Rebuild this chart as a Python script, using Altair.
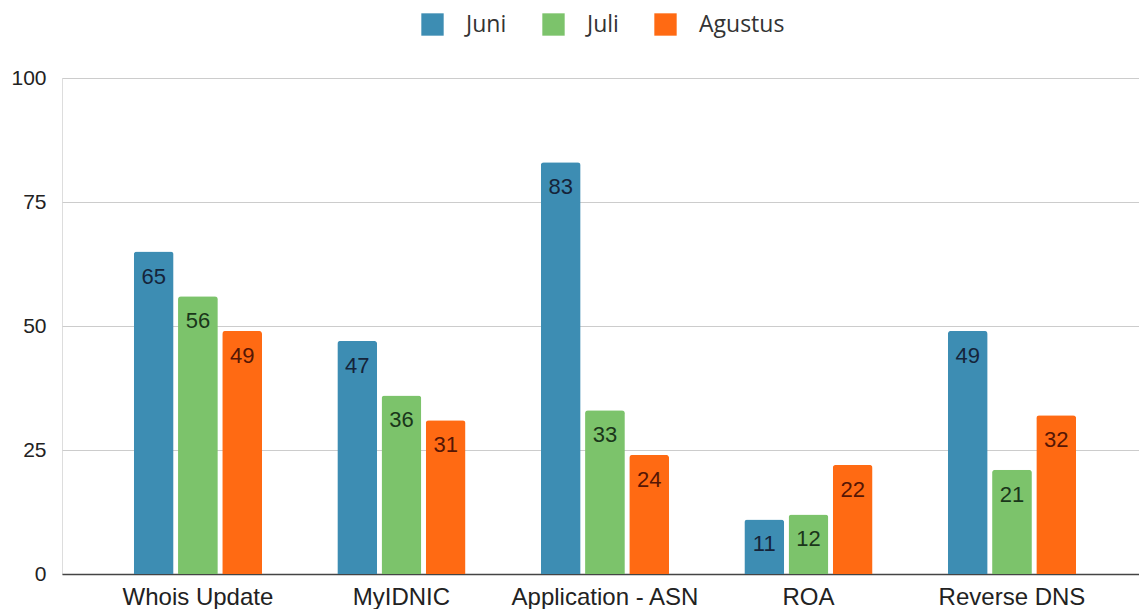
import altair as alt
import pandas as pd

categories = ["Whois Update", "MyIDNIC", "Application - ASN", "ROA", "Reverse DNS"]
series = ["Juni", "Juli", "Agustus"]
juni = [65, 47, 83, 11, 49]
juli = [56, 36, 33, 12, 21]
agustus = [49, 31, 24, 22, 32]
y_ticks = [0, 25, 50, 75, 100]

bar_colors = ["#3d8db3", "#7cc36b", "#ff6a13"]
label_colors = ["#15243a", "#1a361a", "#551605"]

rows = []
for i, c in enumerate(categories):
    for s, vals in zip(series, [juni, juli, agustus]):
        rows.append({"kategori": c, "bulan": s, "nilai": vals[i]})
df = pd.DataFrame(rows)

x = alt.X("kategori:N", sort=categories, title=None,
          scale=alt.Scale(paddingInner=0.37, paddingOuter=0.331, align=0.533),
          axis=alt.Axis(labelAngle=0, labelFont="Liberation Sans", labelFontSize=24,
                        labelColor="#222222", labelPadding=11, ticks=False, labelLimit=0,
                        domainColor="#444444", domainWidth=1.5, grid=False))
xo = alt.XOffset("bulan:N", sort=series, scale=alt.Scale(paddingInner=0.1))
y = alt.Y("nilai:Q", title=None,
          scale=alt.Scale(domain=[0, 100]),
          axis=alt.Axis(values=y_ticks, labelFont="Liberation Sans", labelFontSize=21,
                        labelColor="#222222", ticks=False, domain=False,
                        labelPadding=16, gridColor="#cccccc", gridWidth=1))

bars = alt.Chart(df).mark_bar(cornerRadiusTopLeft=3, cornerRadiusTopRight=3).encode(
    x=x, xOffset=xo, y=y,
    color=alt.Color("bulan:N", sort=series,
                    scale=alt.Scale(domain=series, range=bar_colors),
                    legend=alt.Legend(title=None, orient="none", direction="horizontal",
                                      legendX=359, legendY=-65, gridAlign="none",
                                      symbolType="square", symbolSize=500,
                                      symbolStrokeWidth=0, labelFont="Open Sans",
                                      labelFontSize=23, labelColor="#333333",
                                      labelOffset=22, columnPadding=35)),
)

labels = alt.Chart(df).mark_text(baseline="middle", dy=25, font="Liberation Sans",
                                 fontSize=22).encode(
    x=x, xOffset=xo, y=y,
    text=alt.Text("nilai:Q"),
    color=alt.Color("bulan:N", sort=series,
                    scale=alt.Scale(domain=series, range=label_colors), legend=None),
)

chart = alt.layer(bars, labels).resolve_scale(color="independent").properties(
    width=1077, height=496,
    padding={"left": 2, "right": 0, "top": 5, "bottom": 0},
).configure_view(stroke=None).configure(background="white")

chart.save("out.html", embed_options={"renderer": "svg", "actions": False})
